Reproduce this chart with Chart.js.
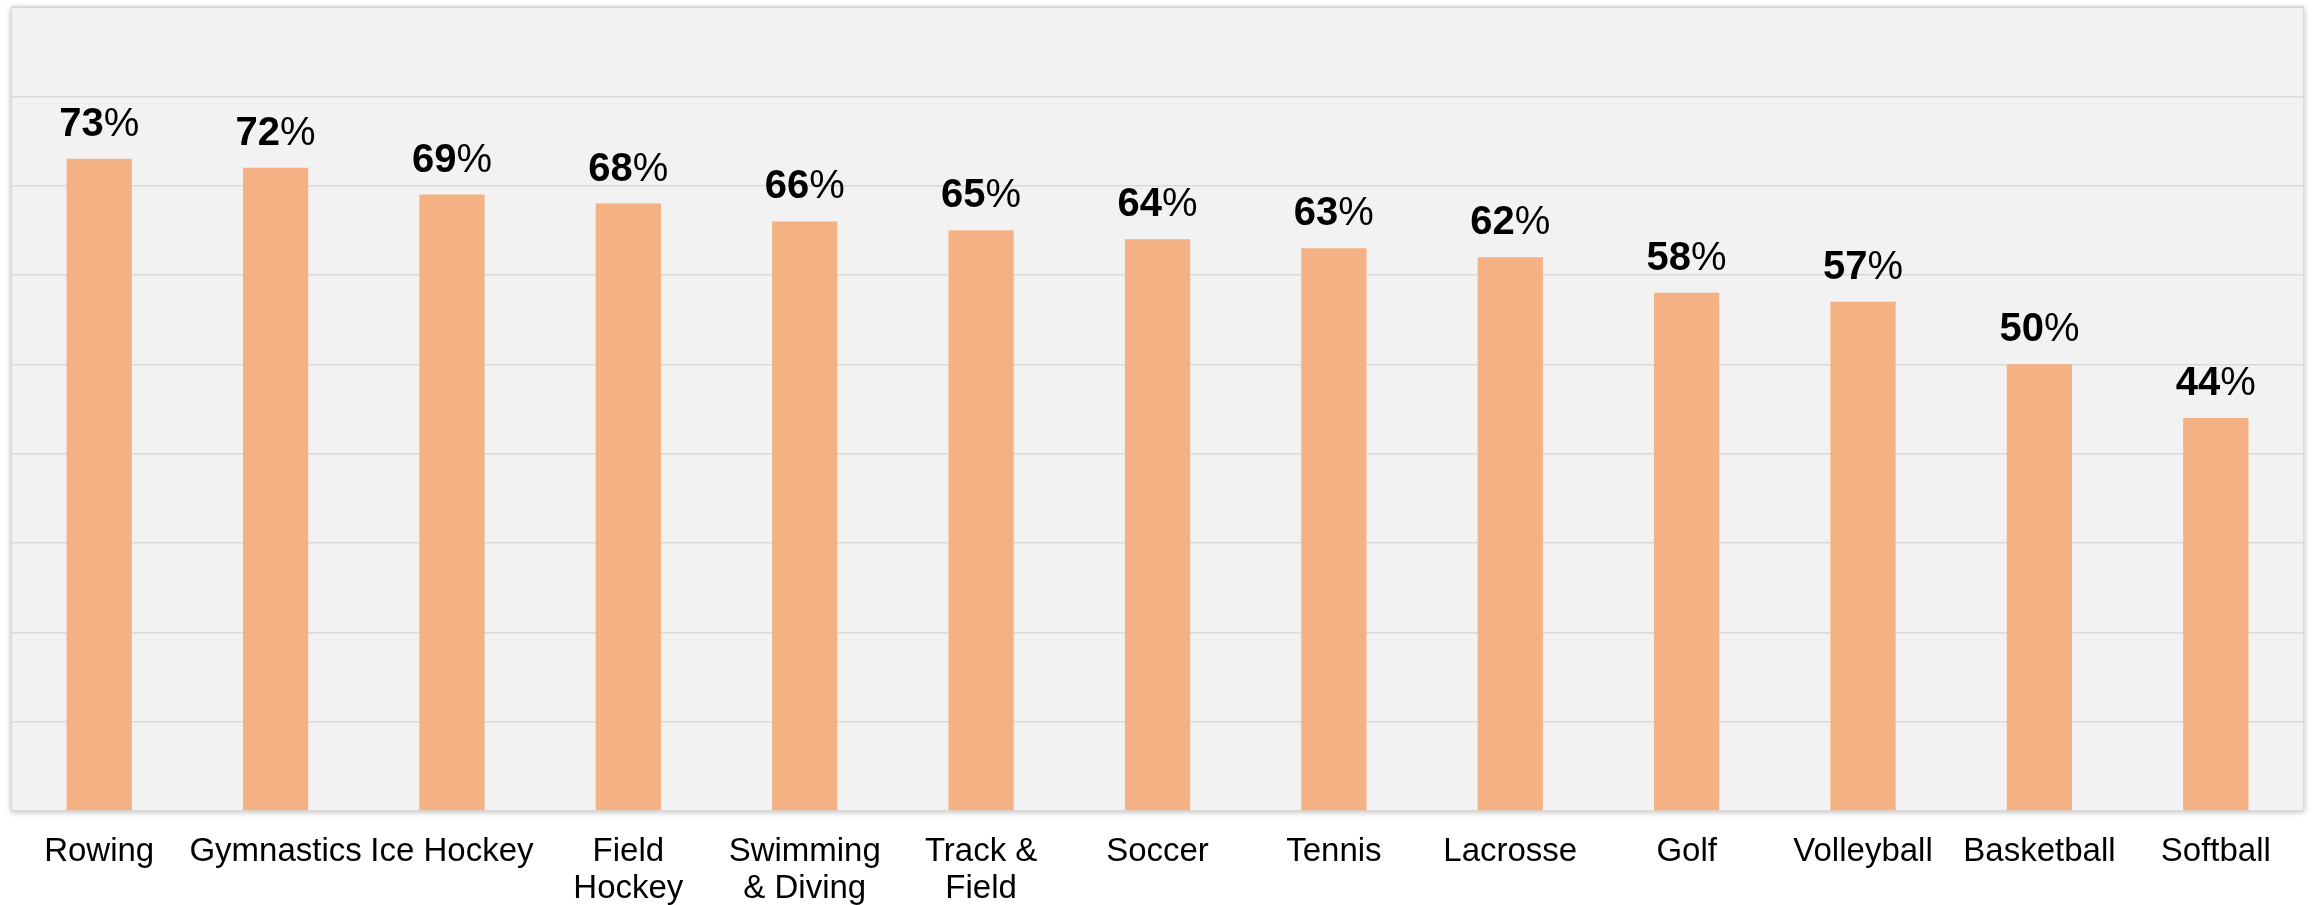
<!DOCTYPE html>
<html>
<head>
<meta charset="utf-8">
<script src="https://cdn.jsdelivr.net/npm/chart.js@4/dist/chart.umd.min.js"></script>
<style>
  html, body { margin: 0; padding: 0; background: #fff; }
  #wrap { width: 2315px; height: 905px; }
</style>
</head>
<body>
<div id="wrap"><canvas id="bar-chart" width="2315" height="905"></canvas></div>
<script>
// sports and share per sport (%)
const sports = [
    "Rowing",
    "Gymnastics",
    "Ice Hockey",
    ["Field", "Hockey"],
    ["Swimming", "& Diving"],
    ["Track &", "Field"],
    "Soccer",
    "Tennis",
    "Lacrosse",
    "Golf",
    "Volleyball",
    "Basketball",
    "Softball",
];
const shares = [73, 72, 69, 68, 66, 65, 64, 63, 62, 58, 57, 50, 44];
const axisMax = 90;
const axisStep = 10;

// gray panel with a soft shadow behind the plot
const panelPlugin = {
    id: "panel",
    beforeDraw(chart) {
        const { ctx, chartArea: a } = chart;
        ctx.save();
        ctx.shadowColor = "rgba(0,0,0,0.28)";
        ctx.shadowBlur = 6;
        ctx.shadowOffsetY = 1;
        ctx.fillStyle = "#f2f2f2";
        ctx.fillRect(a.left, a.top, a.right - a.left, a.bottom - a.top);
        ctx.restore();
        ctx.save();
        ctx.strokeStyle = "#d9d9d9";
        ctx.lineWidth = 1;
        ctx.strokeRect(a.left + 0.5, a.top + 0.5, a.right - a.left - 1, a.bottom - a.top - 1);
        ctx.restore();
    },
};

// value labels: bold digits with a regular "%" sign
const valueLabels = {
    id: "valueLabels",
    afterDatasetsDraw(chart) {
        const ctx = chart.ctx;
        const meta = chart.getDatasetMeta(0);
        ctx.save();
        ctx.fillStyle = "#000";
        ctx.textBaseline = "alphabetic";
        ctx.textAlign = "left";
        meta.data.forEach(function(bar, i) {
            const num = String(shares[i]);
            const boldFont = "bold 40px 'Liberation Sans', Arial, sans-serif";
            const normFont = "40px 'Liberation Sans', Arial, sans-serif";
            ctx.font = boldFont;
            const w1 = ctx.measureText(num).width;
            ctx.font = normFont;
            const w2 = ctx.measureText("%").width;
            const x0 = bar.x - (w1 + w2) / 2;
            const y = bar.y - 23;
            ctx.font = boldFont;
            ctx.fillText(num, x0, y);
            ctx.font = normFont;
            ctx.fillText("%", x0 + w1, y);
        });
        ctx.restore();
    },
};

const barChart = document.querySelector("#bar-chart");
new Chart(barChart, {
    type: "bar",
    data: {
        labels: sports,
        datasets: [{
            data: shares,
            backgroundColor: "#f4b183",
            borderWidth: 0,
            barPercentage: 0.37,
            categoryPercentage: 1,
        }, ],
    },
    options: {
        responsive: false,
        animation: false,
        layout: {
            padding: { left: 11, right: 11, top: 7, bottom: 0 },
        },
        plugins: {
            legend: { display: false },
            tooltip: { enabled: false },
        },
        scales: {
            x: {
                grid: { display: false, drawTicks: false },
                border: { display: false },
                afterFit(scale) {
                    // second line of the wrapped labels runs off the bottom edge
                    scale.height = 94;
                },
                ticks: {
                    autoSkip: false,
                    maxRotation: 0,
                    minRotation: 0,
                    padding: 22,
                    color: "#000",
                    font: { family: "'Liberation Sans', Arial, sans-serif", size: 33, lineHeight: 1.12 },
                },
            },
            y: {
                min: 0,
                max: axisMax,
                ticks: { display: false, stepSize: axisStep },
                grid: { color: "#d9d9d9", lineWidth: 1.5, drawTicks: false },
                border: { display: false },
            },
        },
    },
    plugins: [panelPlugin, valueLabels],
});
</script>
</body>
</html>
